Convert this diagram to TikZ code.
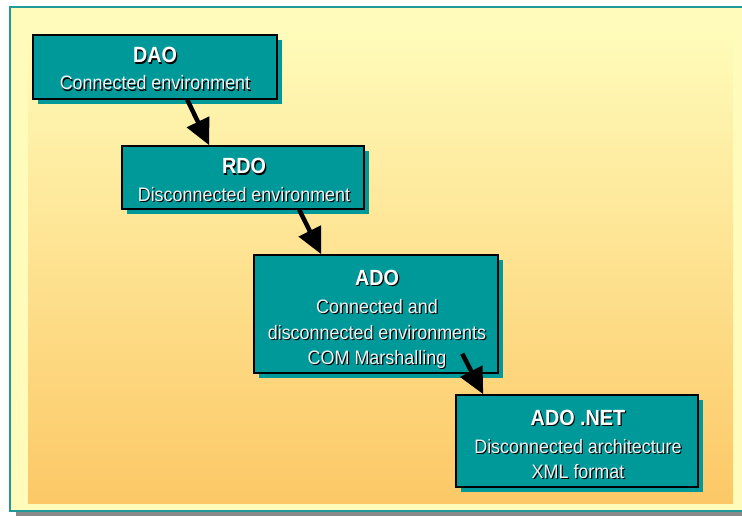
\documentclass[tikz,border=0pt]{standalone}
\usepackage{fontspec}
\setmainfont{Liberation Sans}
\usetikzlibrary{arrows.meta,calc,shadows}
\definecolor{boxteal}{HTML}{009999}
\definecolor{pale}{HTML}{FFFCBB}
\definecolor{orng}{HTML}{FCC866}
\definecolor{frameteal}{HTML}{1E9A9A}
\definecolor{subwhite}{HTML}{F0F0F0}
\definecolor{shgray}{HTML}{8A8A8A}
\newcommand\shtxt[6]{%
  \node[#4, text=black] (#1s) at (#2+1.2,#3+1.2) {\scalebox{#6}[1]{#5}};
  \node[#4] (#1) at (#2,#3) {\scalebox{#6}[1]{#5}};}
\tikzset{
  ttl/.style={anchor=base, inner sep=0pt, text=white, font=\fontsize{22}{26}\selectfont\bfseries},
  sub/.style={anchor=base, inner sep=0pt, text=subwhite, font=\fontsize{19.5}{23}\selectfont},
  box/.style={draw=black, line width=1.5pt, fill=boxteal, inner sep=0pt,
    drop shadow={shadow xshift=5pt, shadow yshift=-5pt, fill=boxteal, opacity=1}},
  arr/.style={line width=4.5pt, -{Triangle[length=26pt,width=24pt]}}
}
\begin{document}
\begin{tikzpicture}[x=1pt,y=-1pt]
\useasboundingbox (0,0) rectangle (742,516);
\clip (0,0) rectangle (742,516);
\fill[white] (0,0) rectangle (742,516);
\fill[shgray] (16,512) rectangle (760,520);
\draw[frameteal, line width=2pt, fill=pale] (10,7) rectangle (770,511);
\shade[top color=pale, bottom color=orng] (28,25) rectangle (733,503);

\node[box, minimum width=244pt, minimum height=64pt] (dao) at (155,67) {};
\node[box, minimum width=242pt, minimum height=63pt] (rdo) at (243,177.5) {};
\node[box, minimum width=244pt, minimum height=118pt] (ado) at (376,314) {};
\node[box, minimum width=242pt, minimum height=92pt] (net) at (577,441) {};

\shtxt{t1}{155}{63}{ttl}{DAO}{0.9}
\shtxt{s1}{155}{90}{sub}{Connected environment}{0.92}
\shtxt{t2}{244}{174}{ttl}{RDO}{0.9}
\shtxt{s2}{244}{201}{sub}{Disconnected environment}{0.92}
\shtxt{t3}{377}{285}{ttl}{ADO}{0.9}
\shtxt{s3a}{377}{313}{sub}{Connected and}{0.92}
\shtxt{s3b}{377}{339}{sub}{disconnected environments}{0.92}
\shtxt{s3c}{377}{364}{sub}{COM Marshalling}{0.92}
\shtxt{t4}{578}{425}{ttl}{ADO .NET}{0.9}
\shtxt{s4a}{578}{453}{sub}{Disconnected architecture}{0.92}
\shtxt{s4b}{578}{478}{sub}{XML format}{0.92}

\draw[arr] ([xshift=155pt]dao.south west) -- ([xshift=88pt]rdo.north west);
\draw[arr] ([xshift=178pt]rdo.south west) -- ([xshift=68pt]ado.north west);
\draw[arr] ([xshift=209pt,yshift=20pt]ado.south west) -- ([xshift=28pt]net.north west);
\end{tikzpicture}
\end{document}
